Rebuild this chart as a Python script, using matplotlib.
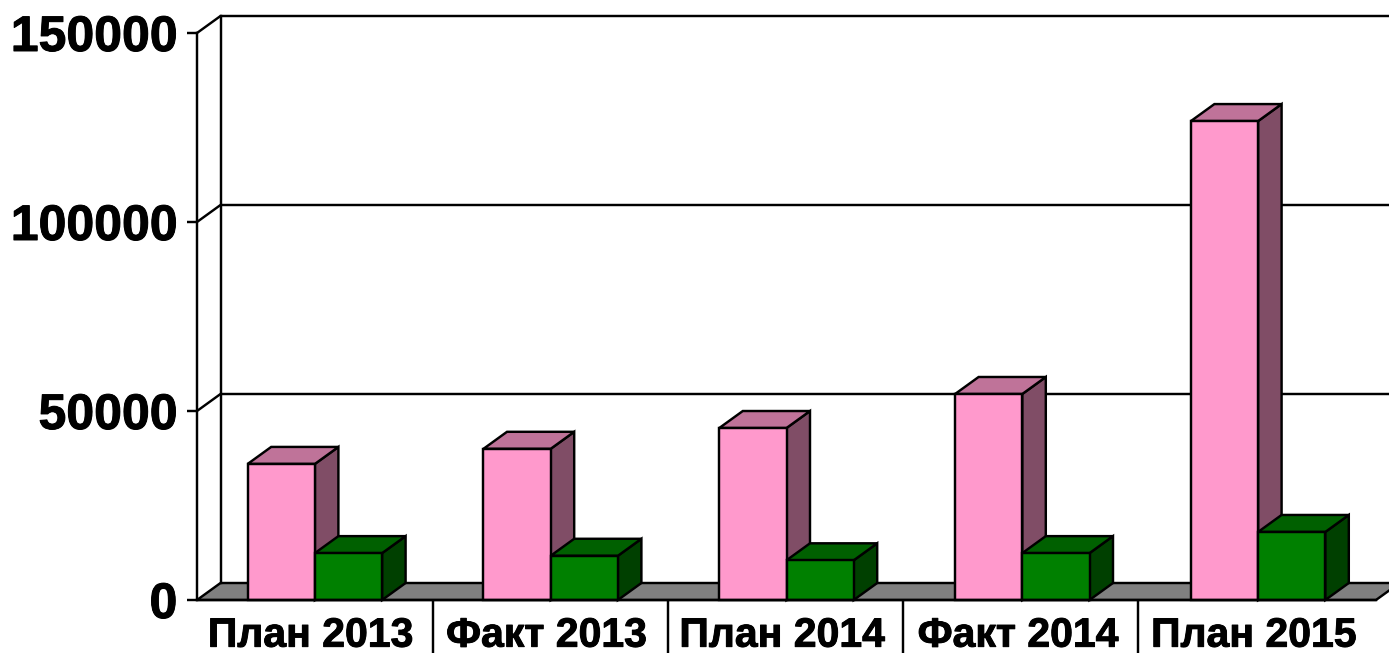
import matplotlib
matplotlib.use('Agg')
import matplotlib.pyplot as plt
import matplotlib.patheffects as pe

plt.rcParams['font.family'] = ['Liberation Sans', 'DejaVu Sans']
plt.rcParams['font.weight'] = 'bold'

categories = ['План 2013', 'Факт 2013', 'План 2014', 'Факт 2014', 'План 2015']
pink_values = [36000, 40000, 45500, 54500, 126700]
green_values = [12400, 11700, 10500, 12400, 18000]
y_ticks = [0, 50000, 100000, 150000]

W, H = 1389, 653
LEFT, RIGHT, BOTTOM, TOP = 197, 1376, 600, 33  # front plane in pixels
LW = 1.75
BAR_W = 0.285
SEP = 235 / 235.8  # separators run a bit tighter than the bars

fig = plt.figure(figsize=(W / 100, H / 100), dpi=100)
ax = fig.add_axes([LEFT / W, (H - BOTTOM) / H, (RIGHT - LEFT) / W, (BOTTOM - TOP) / H])
ax.set_xlim(0, len(categories))
ax.set_ylim(0, y_ticks[-1])

# 3d depth, converted from pixels to data units
DX = 23.5 * len(categories) / (RIGHT - LEFT)
DY = 17 * y_ticks[-1] / (BOTTOM - TOP)


def poly(points, color, z):
    ax.add_patch(plt.Polygon(points, closed=True, facecolor=color, edgecolor='black',
                             linewidth=LW, joinstyle='miter', clip_on=False, zorder=z))


def box(x0, x1, v, front, side, top, z):
    poly([(x0, 0), (x1, 0), (x1, v), (x0, v)], front, z + 0.2)
    poly([(x1, 0), (x1 + DX, DY), (x1 + DX, v + DY), (x1, v)], side, z)
    poly([(x0, v), (x1, v), (x1 + DX, v + DY), (x0 + DX, v + DY)], top, z + 0.1)


xmax = len(categories)

# floor
poly([(0, 0), (xmax, 0), (xmax + DX, DY), (DX, DY)], '#808080', 1)

# back wall lines
for v in y_ticks[1:]:
    ax.plot([0, DX, xmax + DX], [v, v + DY, v + DY], color='black', lw=LW,
            clip_on=False, zorder=1.5, solid_joinstyle='miter')
ax.plot([DX, DX], [DY, y_ticks[-1] + DY], color='black', lw=LW, clip_on=False, zorder=1.5)

for i in range(len(categories)):
    c = i + 0.5
    box(c - BAR_W, c, pink_values[i], '#FF99CC', '#804D66', '#BF7399', 2 + i)
    box(c, c + BAR_W, green_values[i], '#008000', '#004000', '#006000', 2.5 + i)

for s in ['top', 'right']:
    ax.spines[s].set_visible(False)
for s in ['left', 'bottom']:
    ax.spines[s].set_linewidth(LW)
    ax.spines[s].set_zorder(10)

ax.set_yticks(y_ticks)
ax.set_yticklabels([str(v) for v in y_ticks], fontsize=36, fontweight='bold')
ax.tick_params(axis='y', length=7.2, width=LW, pad=7)

# separators are the major ticks, labels sit on minor ticks in the middle
ax.set_xticks([k * SEP + 0.004 for k in range(1, len(categories))])
ax.set_xticklabels([])
ax.set_xticks([i + 0.482 for i in range(len(categories))], minor=True)
ax.set_xticklabels(categories, minor=True, fontsize=29.5, fontweight='bold')
ax.tick_params(axis='x', which='major', length=45, width=LW)
ax.tick_params(axis='x', which='minor', length=0, pad=12)

# original text is a heavier bold
for t in ax.get_yticklabels() + ax.get_xticklabels(minor=True):
    t.set_path_effects([pe.withStroke(linewidth=0.7, foreground='black')])

fig.savefig('out.png', dpi=100)
